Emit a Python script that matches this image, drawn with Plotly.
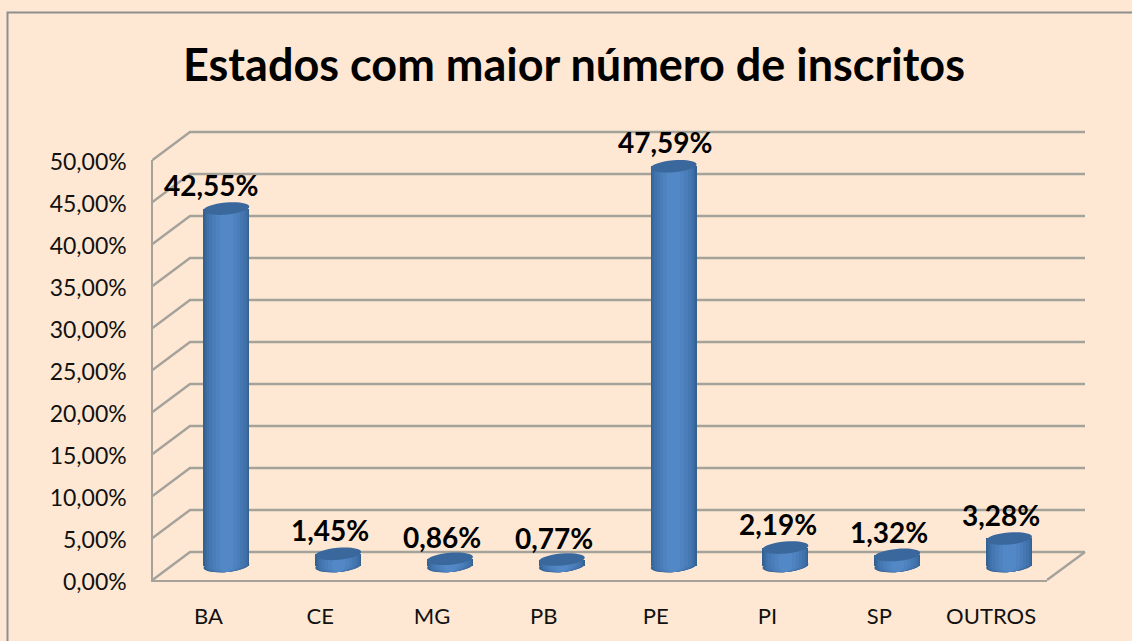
import math
import plotly.graph_objects as go

categories = ["BA", "CE", "MG", "PB", "PE", "PI", "SP", "OUTROS"]
values = [42.55, 1.45, 0.86, 0.77, 47.59, 2.19, 1.32, 3.28]
value_labels = ["42,55%", "1,45%", "0,86%", "0,77%", "47,59%", "2,19%", "1,32%", "3,28%"]
label_dx = [-15, -8, -8, -8, -9, -7, -8, -8]
label_dy = [24, 24, 22, 22, 24, 24, 23, 23]
y_ticks = [0, 5, 10, 15, 20, 25, 30, 35, 40, 45, 50]
y_labels = ["0,00%", "5,00%", "10,00%", "15,00%", "20,00%", "25,00%", "30,00%", "35,00%", "40,00%", "45,00%", "50,00%"]
title = "Estados com maior número de inscritos"

W, H = 1132, 641
BG = "#FEE8D3"
GRID = "#A5A29C"
FONT = "Lato"
cat_step = (1047 - 152.5) / 8
val_step = (580 - 160) / 50

half_widths = [23, 21.5, 19.5, 17, 14, 10.5, 6.5]
shades = ["#36618F", "#3B6AA0", "#4072AC", "#4578B3", "#497EBA", "#4E83C0", "#5388C6"]
xpos = list(range(len(categories)))

fig = go.Figure()
# invisible trace keeps the labelled front axes alive
fig.add_trace(go.Scatter(x=xpos, y=values, xaxis="x", yaxis="y", mode="markers",
                         marker=dict(opacity=0), hoverinfo="skip", showlegend=False))
for hw, col in zip(half_widths, shades):
    fig.add_trace(go.Bar(x=xpos, y=values, xaxis="x2", yaxis="y2", width=2 * hw / cat_step,
                         marker=dict(color=col, line=dict(width=0)),
                         hoverinfo="skip", showlegend=False))

shapes = []
# walls and gridlines (anchored on the bar plane, which sits halfway into the depth)
for t in y_ticks:
    shapes.append(dict(type="path", xref="x2", yref="y2", xsizemode="pixel", ysizemode="pixel",
                       xanchor=-0.5, yanchor=t, layer="below",
                       path="M -18 -14 L 19.5 14 L 914.5 14",
                       line=dict(color=GRID, width=2.4)))
shapes.append(dict(type="path", xref="x2", yref="y2", xsizemode="pixel", ysizemode="pixel",
                   xanchor=7.5, yanchor=0, layer="below", path="M -18 -14 L 20 14",
                   line=dict(color=GRID, width=2.4)))


def ellipse(rx, ry, tilt_deg=5.0):
    """Closed tilted ellipse made of cubic segments, in pixels around the anchor (y upward)."""
    k = 0.5523
    c, s = math.cos(math.radians(tilt_deg)), math.sin(math.radians(tilt_deg))

    def p(x, y):
        return f"{x * c - y * s:.2f} {x * s + y * c:.2f}"

    return (f"M {p(rx, 0)} "
            f"C {p(rx, k * ry)} {p(k * rx, ry)} {p(0, ry)} "
            f"C {p(-k * rx, ry)} {p(-rx, k * ry)} {p(-rx, 0)} "
            f"C {p(-rx, -k * ry)} {p(-k * rx, -ry)} {p(0, -ry)} "
            f"C {p(k * rx, -ry)} {p(rx, -k * ry)} {p(rx, 0)} Z")


# cylinder bottoms
for i in xpos:
    for hw, col in zip(half_widths, shades):
        shapes.append(dict(type="path", xref="x2", yref="y2", xsizemode="pixel", ysizemode="pixel",
                           xanchor=i, yanchor=0, layer="below", path=ellipse(hw, 6),
                           fillcolor=col, line=dict(width=0)))
# cylinder tops
for i, v in zip(xpos, values):
    shapes.append(dict(type="path", xref="x2", yref="y2", xsizemode="pixel", ysizemode="pixel",
                       xanchor=i, yanchor=v, layer="above", path=ellipse(23, 6),
                       fillcolor="#3A689C", line=dict(width=0)))
# outer frame
shapes.append(dict(type="path", xref="paper", yref="paper", layer="below",
                   path=f"M {7.5/W} 0 L {7.5/W} {1-12.5/H} L 1 {1-12.5/H}",
                   line=dict(color="#8E8E8E", width=2)))

annotations = [
    dict(x=i, y=v, xref="x2", yref="y2", text=f"<b>{t}</b>", showarrow=False,
         xshift=dx, yshift=dy, xanchor="center", yanchor="middle",
         font=dict(family=FONT, size=28, color="black"))
    for i, v, t, dx, dy in zip(xpos, values, value_labels, label_dx, label_dy)
]

fig.update_layout(
    width=W, height=H, autosize=False,
    margin=dict(l=0, r=0, t=0, b=0),
    paper_bgcolor=BG, plot_bgcolor="rgba(0,0,0,0)",
    barmode="overlay", bargap=0,
    font=dict(family=FONT, color="#111111"),
    title=dict(text=f"<b>{title}</b>", x=574 / W, y=1 - 65 / H, xref="paper", yref="paper",
               xanchor="center", yanchor="middle", font=dict(family=FONT, size=45, color="black")),
    xaxis=dict(domain=[152.5 / W, 1047 / W], range=[-0.5, 7.5], tickmode="array", tickvals=xpos,
               ticktext=categories, showgrid=False, zeroline=False, showline=True, linecolor=GRID,
               linewidth=2.4, ticks="", tickfont=dict(size=22, family=FONT), ticklabelstandoff=15,
               fixedrange=True, automargin=False),
    yaxis=dict(domain=[(H - 580) / H, (H - 160) / H], range=[0, 50], tickmode="array", tickvals=y_ticks,
               ticktext=y_labels, showgrid=False, zeroline=False, showline=True, linecolor=GRID,
               linewidth=2.4, ticks="", tickfont=dict(size=23, family=FONT), ticklabelstandoff=19,
               ticklabelshift=2, fixedrange=True, automargin=False),
    # hidden full-canvas axes for the bars, so caps and gridlines are not clipped
    xaxis2=dict(domain=[0, 1], range=[-0.5 - 170.5 / cat_step, -0.5 + (W - 170.5) / cat_step],
                anchor="y2", visible=False, fixedrange=True, automargin=False),
    yaxis2=dict(domain=[0, 1], range=[-(H - 566) / val_step, 566 / val_step],
                anchor="x2", visible=False, fixedrange=True, automargin=False),
    shapes=shapes,
    annotations=annotations,
)

fig.write_html("out.html", config=dict(displayModeBar=False),
               post_script="document.body.style.margin='0';document.body.style.background='%s';" % BG)
